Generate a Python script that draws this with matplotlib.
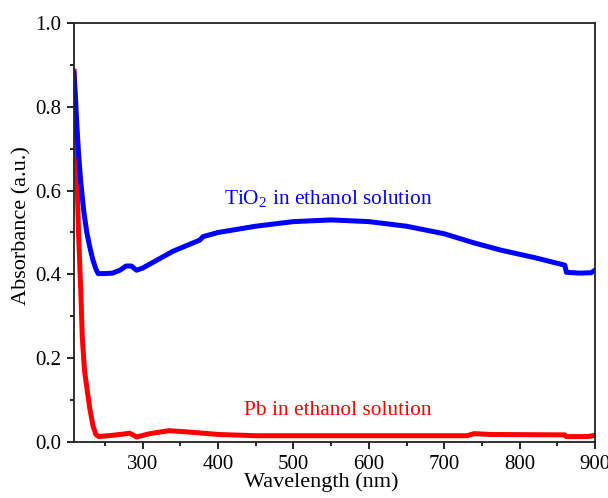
import matplotlib
matplotlib.use('Agg')
import matplotlib.pyplot as plt
from matplotlib.ticker import MultipleLocator

plt.rcParams['font.family'] = 'Liberation Serif'
plt.rcParams['mathtext.fontset'] = 'custom'
plt.rcParams['mathtext.rm'] = 'Liberation Serif'

# TiO2 absorbance
tio2_wl = [209, 211, 213, 215, 218, 222, 226, 230, 234, 238, 241, 250, 260, 270, 278, 285,
           292, 300, 320, 340, 360, 376, 380, 400, 450, 500, 550, 600, 650, 700, 740, 775,
           820, 860, 862, 880, 895, 900]
tio2_abs = [0.88, 0.82, 0.75, 0.69, 0.62, 0.55, 0.50, 0.465, 0.435, 0.413, 0.402, 0.402, 0.403,
            0.41, 0.42, 0.42, 0.41, 0.415, 0.435, 0.455, 0.47, 0.482, 0.49, 0.50, 0.515, 0.526,
            0.53, 0.526, 0.515, 0.497, 0.475, 0.458, 0.44, 0.422, 0.405, 0.403, 0.404, 0.41]

# Pb absorbance
pb_wl = [209, 212, 215, 218, 220, 223, 226, 230, 234, 238, 242, 260, 275, 283, 292, 310,
         335, 360, 400, 450, 600, 730, 740, 760, 860, 862, 890, 900]
pb_abs = [0.885, 0.70, 0.50, 0.36, 0.25, 0.17, 0.13, 0.08, 0.04, 0.018, 0.013, 0.016, 0.019,
          0.021, 0.012, 0.02, 0.027, 0.024, 0.018, 0.015, 0.015, 0.015, 0.02, 0.018, 0.017,
          0.013, 0.013, 0.016]

fig = plt.figure(figsize=(6.08, 4.98), dpi=100)
ax = fig.add_axes([74 / 608, 56 / 498, 521 / 608, 419 / 498])

ax.plot(pb_wl, pb_abs, color='#ff0000', lw=3.6)
ax.plot(tio2_wl, tio2_abs, color='#0000ff', lw=3.6)

ax.set_xlim(209, 900)
ax.set_ylim(0, 1.0)
ax.xaxis.set_major_locator(MultipleLocator(100))
ax.xaxis.set_minor_locator(MultipleLocator(50))
ax.yaxis.set_major_locator(MultipleLocator(0.2))
ax.yaxis.set_minor_locator(MultipleLocator(0.1))
ax.tick_params(which='both', direction='out', top=False, right=False, labelsize=15)
ax.tick_params(which='major', length=5, width=1.2, pad=4)
ax.tick_params(which='minor', length=3, width=1.2)
for s in ax.spines.values():
    s.set_linewidth(1.3)
    s.set_color('#222222')

ax.set_xlabel('Wavelength (nm)', fontsize=16)
ax.set_ylabel('Absorbance (a.u.)', fontsize=16)
ax.xaxis.set_label_coords(0.474, -0.072)
ax.yaxis.set_label_coords(-0.082, 0.517)

ax.text(547, 0.566, 'TiO$_2$ in ethanol solution', color='#0000ff', fontsize=15.4,
        ha='center', va='baseline')
ax.text(559, 0.064, 'Pb in ethanol solution', color='#ff0000', fontsize=15.4,
        ha='center', va='baseline')

fig.savefig('out.png', dpi=100)
